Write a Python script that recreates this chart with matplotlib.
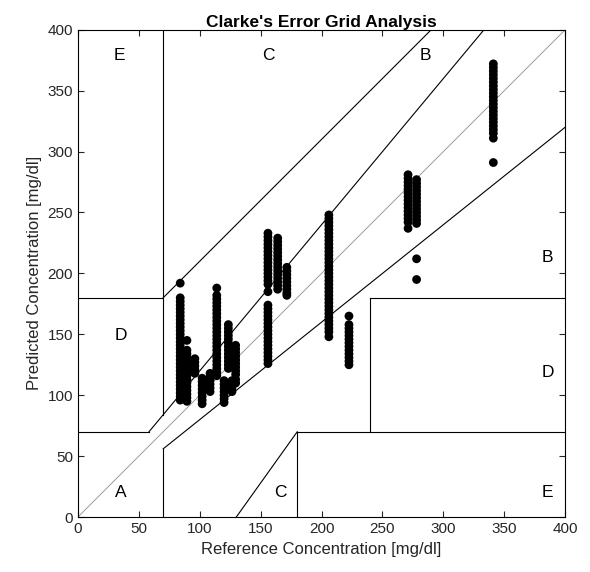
import numpy as np
import matplotlib.pyplot as plt

plt.rcParams['font.family'] = ['Liberation Sans', 'DejaVu Sans']

# reference value of each column of repeated measurements
ref_cols = [84, 89.5, 96, 102, 108.5, 114, 120, 123.5, 126.5, 129.5,
            156, 156, 164, 171.5, 206, 222.5, 271, 278, 341]
# predicted values for each column
pred_cols = [
    [192, 180, 177, 174, 171, 168, 165, 162, 159, 156, 153, 150, 147, 144, 141, 138,
     135, 132, 129, 126, 123, 120, 117, 114, 111, 108, 105, 102, 99, 96],
    [145, 137, 134, 131, 128, 125, 122, 119, 116, 113, 110, 107, 104, 101, 98, 95],
    [130, 127, 124, 121, 118],
    [114, 111, 108, 105, 102, 99, 96, 93],
    [118, 115, 112, 109, 106, 103],
    [188, 182, 179, 176, 173, 170, 167, 164, 161, 158, 155, 152, 149, 146, 143, 140,
     137, 134, 131, 128, 125, 122, 119, 116],
    [112, 109, 106, 103, 100, 97, 94],
    [158, 155, 152, 149, 146, 143, 140, 137, 134, 131, 128, 125, 122],
    [112, 109, 106, 103],
    [141, 138, 135, 132, 129, 126, 123, 120, 117, 113, 110],
    [174, 171, 168, 165, 162, 159, 156, 153, 150, 147, 144, 141, 138, 135, 132, 129, 126],
    [233, 230, 227, 224, 221, 218, 215, 212, 209, 206, 203, 200, 197, 194, 191, 185],
    [229, 226, 223, 220, 217, 214, 211, 208, 205, 202, 199, 196, 193, 190, 187],
    [205, 202, 199, 196, 193, 190, 187, 184, 182],
    [248, 245, 242, 239, 236, 233, 230, 227, 224, 221, 218, 215, 212, 209, 206, 203,
     200, 197, 194, 191, 188, 185, 182, 179, 176, 173, 170, 167, 164, 161, 158, 155,
     152, 148],
    [165, 158, 155, 152, 149, 146, 143, 140, 137, 134, 131, 128, 125],
    [281, 278, 275, 272, 269, 266, 263, 260, 257, 254, 251, 248, 245, 242, 237],
    [277, 274, 271, 268, 265, 262, 259, 256, 253, 250, 247, 244, 241, 212, 195],
    [372, 369, 366, 363, 360, 357, 354, 351, 348, 345, 342, 339, 336, 333, 330, 327,
     324, 321, 318, 315, 311, 291],
]

ref = np.concatenate([[r] * len(p) for r, p in zip(ref_cols, pred_cols)])
pred = np.concatenate(pred_cols)

fig = plt.figure(figsize=(5.9, 5.72), dpi=100)
ax = fig.add_axes([0.132, 0.096, 0.826, 0.852])

ax.scatter(ref, pred, s=40, c='black', edgecolors='none', zorder=3)

# zone boundaries
ax.plot([0, 400], [0, 400], color='0.55', lw=0.6)
lines = [
    ([0, 175 / 3], [70, 70]),
    ([175 / 3, 400 / 1.2], [70, 400]),
    ([70, 70], [84, 400]),
    ([0, 70], [180, 180]),
    ([70, 290], [180, 400]),
    ([70, 70], [0, 56]),
    ([70, 400], [56, 320]),
    ([180, 180], [0, 70]),
    ([180, 400], [70, 70]),
    ([240, 240], [70, 180]),
    ([240, 400], [180, 180]),
    ([130, 180], [0, 70]),
]
for xs, ys in lines:
    ax.plot(xs, ys, color='black', lw=0.8)

zones = [('A', 35, 20), ('B', 385, 213), ('B', 285, 379), ('C', 156, 379),
         ('C', 166, 20), ('D', 35, 149), ('D', 386, 119), ('E', 34, 379), ('E', 385, 20)]
for lab, zx, zy in zones:
    ax.text(zx, zy, lab, fontsize=12.5, ha='center', va='center')

ax.set_xlim(0, 400)
ax.set_ylim(0, 400)
ax.set_xticks(np.arange(0, 401, 50))
ax.set_yticks(np.arange(0, 401, 50))
ax.tick_params(direction='in', top=True, right=True, labelsize=11, length=4, colors='0.15')
ax.set_xlabel('Reference Concentration [mg/dl]', fontsize=12, color='0.15')
ax.set_ylabel('Predicted Concentration [mg/dl]', fontsize=12, color='0.15')
ax.set_title("Clarke's Error Grid Analysis", fontsize=12.5, fontweight='bold', pad=2)

fig.savefig('out.png', dpi=100)
